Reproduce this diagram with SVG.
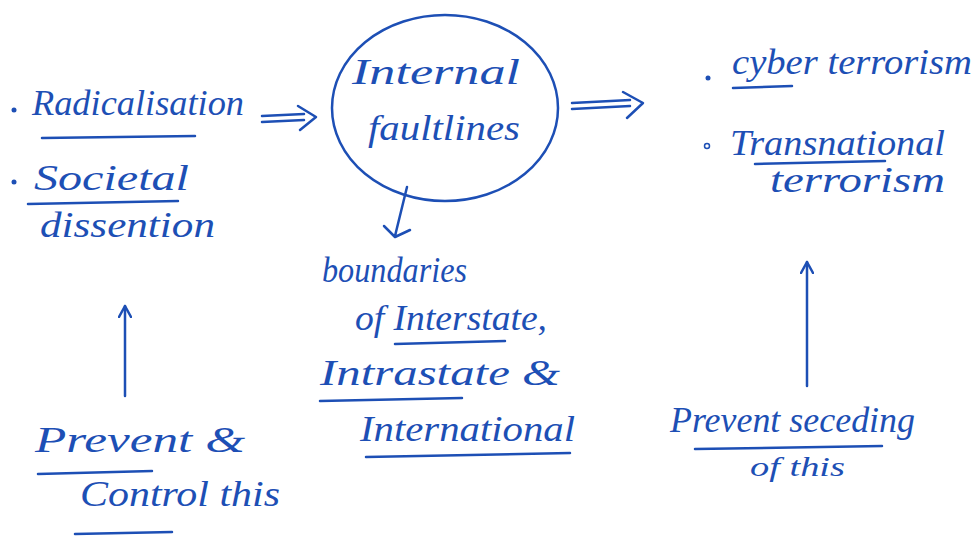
<svg xmlns="http://www.w3.org/2000/svg" width="976" height="538" viewBox="0 0 976 538">
<defs>
<style>
.t{font-family:"Liberation Serif","DejaVu Serif",serif;font-style:italic;fill:#1d4fb5;font-size:36px}
.s{stroke:#1d4fb5;stroke-width:2.5;fill:none;stroke-linecap:round;stroke-linejoin:round}
</style>
<marker id="ah" markerWidth="14" markerHeight="14" refX="12" refY="7" orient="auto" markerUnits="userSpaceOnUse">
<path d="M1,1 L12,7 L1,13" class="s"/>
</marker>
</defs>
<rect width="976" height="538" fill="#ffffff"/>

<g id="radicalisation">
<circle cx="14" cy="110" r="2.5" fill="#1d4fb5"/>
<text class="t" x="32" y="115" textLength="212" lengthAdjust="spacingAndGlyphs">Radicalisation</text>
<line class="s" x1="42" y1="138" x2="195" y2="136"/>
</g>

<g id="societal">
<circle cx="14" cy="182" r="2.5" fill="#1d4fb5"/>
<text class="t" x="34" y="190" textLength="155" lengthAdjust="spacingAndGlyphs">Societal</text>
<line class="s" x1="28" y1="204" x2="178" y2="201"/>
<text class="t" x="40" y="237" textLength="175" lengthAdjust="spacingAndGlyphs">dissention</text>
</g>

<g id="internal">
<ellipse class="s" cx="445" cy="108" rx="113" ry="93"/>
<text class="t" x="352" y="84" textLength="168" lengthAdjust="spacingAndGlyphs">Internal</text>
<text class="t" x="368" y="140" textLength="152" lengthAdjust="spacingAndGlyphs">faultlines</text>
</g>

<g id="cyber">
<circle cx="708" cy="78" r="2.5" fill="#1d4fb5"/>
<text class="t" x="732" y="74" textLength="240" lengthAdjust="spacingAndGlyphs">cyber terrorism</text>
<line class="s" x1="733" y1="88" x2="792" y2="86"/>
</g>

<g id="transnational">
<circle cx="707" cy="146" r="2.5" fill="none" stroke="#1d4fb5" stroke-width="1.5"/>
<text class="t" x="730" y="155" textLength="215" lengthAdjust="spacingAndGlyphs">Transnational</text>
<line class="s" x1="755" y1="164" x2="885" y2="161"/>
<text class="t" x="770" y="192" textLength="175" lengthAdjust="spacingAndGlyphs">terrorism</text>
</g>

<g id="boundaries">
<text class="t" x="322" y="282" textLength="145" lengthAdjust="spacingAndGlyphs">boundaries</text>
<text class="t" x="355" y="330" textLength="192" lengthAdjust="spacingAndGlyphs">of Interstate,</text>
<line class="s" x1="395" y1="344" x2="505" y2="341"/>
<text class="t" x="320" y="385" textLength="240" lengthAdjust="spacingAndGlyphs">Intrastate &amp;</text>
<line class="s" x1="320" y1="401" x2="462" y2="398"/>
<text class="t" x="360" y="441" textLength="215" lengthAdjust="spacingAndGlyphs">International</text>
<line class="s" x1="366" y1="457" x2="570" y2="453"/>
</g>

<g id="prevent-control">
<text class="t" x="35" y="452" textLength="210" lengthAdjust="spacingAndGlyphs">Prevent &amp;</text>
<line class="s" x1="38" y1="474" x2="152" y2="471"/>
<text class="t" x="80" y="506" textLength="200" lengthAdjust="spacingAndGlyphs">Control this</text>
<line class="s" x1="75" y1="534" x2="172" y2="532"/>
</g>

<g id="prevent-seceding">
<text class="t" x="670" y="432" textLength="245" lengthAdjust="spacingAndGlyphs">Prevent seceding</text>
<line class="s" x1="695" y1="449" x2="882" y2="446"/>
<text class="t" x="750" y="476" style="font-size:28px" textLength="95" lengthAdjust="spacingAndGlyphs">of this</text>
</g>

<g id="connectors">
<path class="s" d="M262,116 L304,114 M262,122 L304,120 M298,106 L316,117 L300,130"/>
<path class="s" d="M572,103 L630,100 M572,109 L630,106 M623,92 L643,103 L627,118"/>
<path class="s" d="M407,187 L395,236 M384,226 L395,237 L410,230"/>
<line class="s" x1="125" y1="396" x2="125" y2="306" marker-end="url(#ah)"/>
<line class="s" x1="807" y1="386" x2="807" y2="262" marker-end="url(#ah)"/>
</g>
</svg>
